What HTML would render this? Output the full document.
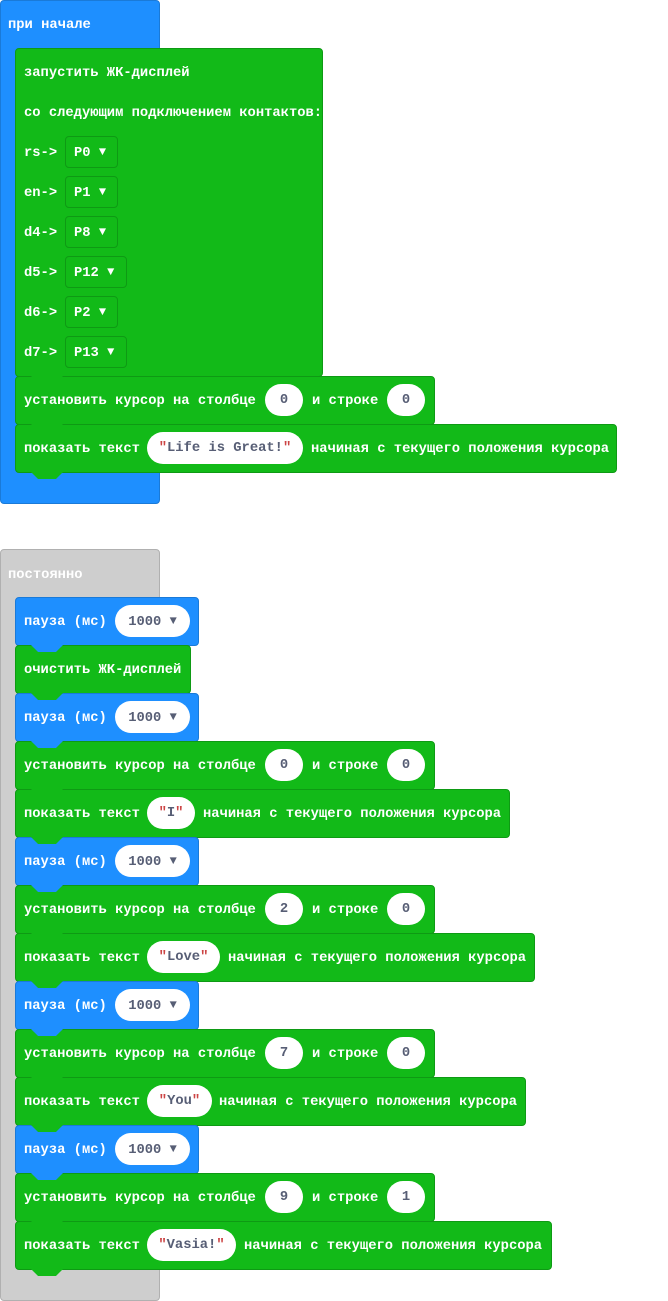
<!DOCTYPE html>
<html><head><meta charset="utf-8"><style>
body{margin:0;width:668px;height:1301px;background:#fff;position:relative;overflow:hidden;font-family:"Liberation Mono","DejaVu Sans Mono",monospace;font-weight:bold;font-size:13.8px;color:#fff}
.b{position:absolute;box-sizing:border-box;border-radius:4px}
.g{background:#12ba18;border:1px solid #0e9a14}
.bl{background:#1e8fff;border:1px solid #1a7ad8}
.gr{background:#cecece;border:1px solid #b0b0b0}
.tab{position:absolute;width:32px;height:7px;clip-path:polygon(0 0,100% 0,78% 100%,22% 100%);z-index:5}
.t{position:absolute;line-height:16px;white-space:pre;z-index:6;margin-top:2px}
.p{position:absolute;height:32px;background:#fff;border-radius:16px;color:#575e75;line-height:33px;text-align:center;white-space:pre;z-index:6}
.q{color:#c44}
.dd{position:absolute;height:32px;box-sizing:border-box;border:1px solid #0e9a14;border-radius:4px;line-height:31px;padding-left:8px;white-space:pre;z-index:6}
.ar{font-size:12px;vertical-align:1px}
</style></head><body>

<div class="b bl" style="left:0;top:0;width:160px;height:504px"></div>
<div class="t" style="left:8px;top:16px">при начале</div>
<div class="b g" style="left:15px;top:48px;width:308px;height:329px"></div>
<div class="t" style="left:24px;top:64px">запустить ЖК-дисплей</div>
<div class="t" style="left:24px;top:104px">со следующим подключением контактов:</div>
<div class="t" style="left:24px;top:144px">rs-></div><div class="dd" style="left:65px;top:136px;width:53px">P0 <span class="ar">▼</span></div>
<div class="t" style="left:24px;top:184px">en-></div><div class="dd" style="left:65px;top:176px;width:53px">P1 <span class="ar">▼</span></div>
<div class="t" style="left:24px;top:224px">d4-></div><div class="dd" style="left:65px;top:216px;width:53px">P8 <span class="ar">▼</span></div>
<div class="t" style="left:24px;top:264px">d5-></div><div class="dd" style="left:65px;top:256px;width:62px">P12 <span class="ar">▼</span></div>
<div class="t" style="left:24px;top:304px">d6-></div><div class="dd" style="left:65px;top:296px;width:53px">P2 <span class="ar">▼</span></div>
<div class="t" style="left:24px;top:344px">d7-></div><div class="dd" style="left:65px;top:336px;width:62px">P13 <span class="ar">▼</span></div>
<div class="tab" style="left:31px;top:376px;background:#12ba18"></div>

<div class="b g" style="left:15px;top:376px;width:420px;height:49px"></div>
<div class="t" style="left:24px;top:392px">установить курсор на столбце</div>
<div class="p" style="left:265px;top:384px;width:38px">0</div>
<div class="t" style="left:312px;top:392px">и строке</div>
<div class="p" style="left:387px;top:384px;width:38px">0</div>
<div class="tab" style="left:31px;top:424px;background:#12ba18"></div>

<div class="b g" style="left:15px;top:424px;width:602px;height:49px"></div>
<div class="t" style="left:24px;top:440px">показать текст</div>
<div class="p" style="left:147px;top:432px;width:156px"><span class="q">"</span>Life is Great!<span class="q">"</span></div>
<div class="t" style="left:311px;top:440px">начиная с текущего положения курсора</div>
<div class="tab" style="left:31px;top:472px;background:#12ba18"></div>

<div class="b gr" style="left:0;top:549px;width:160px;height:752px"></div>
<div class="t" style="left:8px;top:566px">постоянно</div>

<div class="b bl" style="left:15px;top:597px;width:184px;height:49px"></div>
<div class="t" style="left:24px;top:613px">пауза (мс)</div>
<div class="p" style="left:115px;top:605px;width:75px">1000 <span class="ar">▼</span></div>
<div class="tab" style="left:31px;top:645px;background:#1e8fff"></div>

<div class="b g" style="left:15px;top:645px;width:176px;height:49px"></div>
<div class="t" style="left:24px;top:661px">очистить ЖК-дисплей</div>
<div class="tab" style="left:31px;top:693px;background:#12ba18"></div>

<div class="b bl" style="left:15px;top:693px;width:184px;height:49px"></div>
<div class="t" style="left:24px;top:709px">пауза (мс)</div>
<div class="p" style="left:115px;top:701px;width:75px">1000 <span class="ar">▼</span></div>
<div class="tab" style="left:31px;top:741px;background:#1e8fff"></div>

<div class="b g" style="left:15px;top:741px;width:420px;height:49px"></div>
<div class="t" style="left:24px;top:757px">установить курсор на столбце</div>
<div class="p" style="left:265px;top:749px;width:38px">0</div>
<div class="t" style="left:312px;top:757px">и строке</div>
<div class="p" style="left:387px;top:749px;width:38px">0</div>
<div class="tab" style="left:31px;top:789px;background:#12ba18"></div>

<div class="b g" style="left:15px;top:789px;width:495px;height:49px"></div>
<div class="t" style="left:24px;top:805px">показать текст</div>
<div class="p" style="left:147px;top:797px;width:48px"><span class="q">"</span>I<span class="q">"</span></div>
<div class="t" style="left:203px;top:805px">начиная с текущего положения курсора</div>
<div class="tab" style="left:31px;top:837px;background:#12ba18"></div>

<div class="b bl" style="left:15px;top:837px;width:184px;height:49px"></div>
<div class="t" style="left:24px;top:853px">пауза (мс)</div>
<div class="p" style="left:115px;top:845px;width:75px">1000 <span class="ar">▼</span></div>
<div class="tab" style="left:31px;top:885px;background:#1e8fff"></div>

<div class="b g" style="left:15px;top:885px;width:420px;height:49px"></div>
<div class="t" style="left:24px;top:901px">установить курсор на столбце</div>
<div class="p" style="left:265px;top:893px;width:38px">2</div>
<div class="t" style="left:312px;top:901px">и строке</div>
<div class="p" style="left:387px;top:893px;width:38px">0</div>
<div class="tab" style="left:31px;top:933px;background:#12ba18"></div>

<div class="b g" style="left:15px;top:933px;width:520px;height:49px"></div>
<div class="t" style="left:24px;top:949px">показать текст</div>
<div class="p" style="left:147px;top:941px;width:73px"><span class="q">"</span>Love<span class="q">"</span></div>
<div class="t" style="left:228px;top:949px">начиная с текущего положения курсора</div>
<div class="tab" style="left:31px;top:981px;background:#12ba18"></div>

<div class="b bl" style="left:15px;top:981px;width:184px;height:49px"></div>
<div class="t" style="left:24px;top:997px">пауза (мс)</div>
<div class="p" style="left:115px;top:989px;width:75px">1000 <span class="ar">▼</span></div>
<div class="tab" style="left:31px;top:1029px;background:#1e8fff"></div>

<div class="b g" style="left:15px;top:1029px;width:420px;height:49px"></div>
<div class="t" style="left:24px;top:1045px">установить курсор на столбце</div>
<div class="p" style="left:265px;top:1037px;width:38px">7</div>
<div class="t" style="left:312px;top:1045px">и строке</div>
<div class="p" style="left:387px;top:1037px;width:38px">0</div>
<div class="tab" style="left:31px;top:1077px;background:#12ba18"></div>

<div class="b g" style="left:15px;top:1077px;width:511px;height:49px"></div>
<div class="t" style="left:24px;top:1093px">показать текст</div>
<div class="p" style="left:147px;top:1085px;width:65px"><span class="q">"</span>You<span class="q">"</span></div>
<div class="t" style="left:219px;top:1093px">начиная с текущего положения курсора</div>
<div class="tab" style="left:31px;top:1125px;background:#12ba18"></div>

<div class="b bl" style="left:15px;top:1125px;width:184px;height:49px"></div>
<div class="t" style="left:24px;top:1141px">пауза (мс)</div>
<div class="p" style="left:115px;top:1133px;width:75px">1000 <span class="ar">▼</span></div>
<div class="tab" style="left:31px;top:1173px;background:#1e8fff"></div>

<div class="b g" style="left:15px;top:1173px;width:420px;height:49px"></div>
<div class="t" style="left:24px;top:1189px">установить курсор на столбце</div>
<div class="p" style="left:265px;top:1181px;width:38px">9</div>
<div class="t" style="left:312px;top:1189px">и строке</div>
<div class="p" style="left:387px;top:1181px;width:38px">1</div>
<div class="tab" style="left:31px;top:1221px;background:#12ba18"></div>

<div class="b g" style="left:15px;top:1221px;width:537px;height:49px"></div>
<div class="t" style="left:24px;top:1237px">показать текст</div>
<div class="p" style="left:147px;top:1229px;width:89px"><span class="q">"</span>Vasia!<span class="q">"</span></div>
<div class="t" style="left:244px;top:1237px">начиная с текущего положения курсора</div>
<div class="tab" style="left:31px;top:1269px;background:#12ba18"></div>

</body></html>
